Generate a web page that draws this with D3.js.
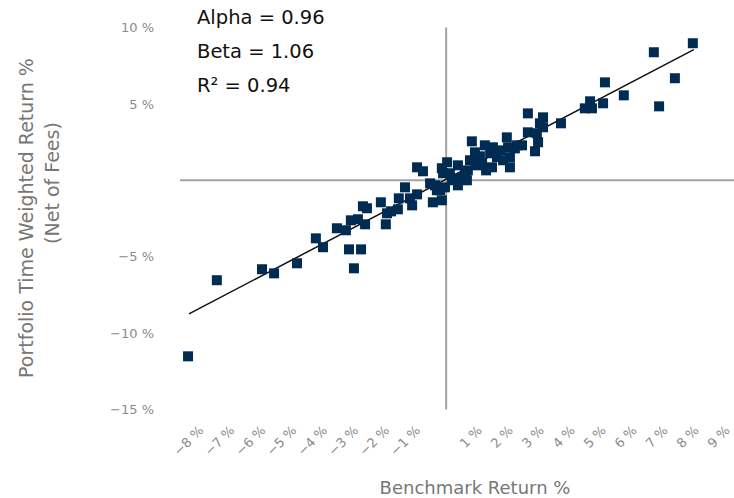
<!DOCTYPE html>
<html>
<head>
<meta charset="utf-8">
<script src="https://cdn.jsdelivr.net/npm/d3@7"></script>
<style>
  body { margin: 0; background: #fff; }
  svg { display: block; font-family: "DejaVu Sans", sans-serif; }
</style>
</head>
<body>
<div id="chart"></div>
<script>
// data (percent)
var benchReturn = [-8.34, -7.41, -5.95, -5.56, -4.82, -4.21, -3.98, -3.53, -3.24, -3.08,
  -2.85, -3.14, -2.75, -2.98, -2.69, -2.56, -2.62, -2.11, -1.95, -1.91,
  -1.78, -1.56, -1.53, -1.33, -1.17, -0.94, -1.10, -0.94, -0.75, -0.52,
  -0.36, -0.30, -0.43, -0.14, -0.04, -0.10, 0.03, -0.14, 0.12, 0.28,
  0.38, 0.38, 0.61, 0.70, 0.83, 0.93, 1.00, 1.16, 1.25, 1.29,
  1.42, 1.51, 1.48, 1.74, 1.84, 1.96, 2.00, 2.06, 2.06, 2.22,
  2.29, 2.45, 2.64, 3.13, 3.03, 3.13, 2.64, 2.93, 2.97, 2.87,
  3.71, 4.48, 4.65, 4.71, 5.07, 5.13, 5.74, 6.71, 7.39, 6.88,
  7.97, 0.19, 0.51, 0.77, 1.09, 1.64, 0.67, -0.20];
var portfolioReturn = [-11.52, -6.54, -5.82, -6.09, -5.43, -3.80, -4.38, -3.14, -3.27, -2.62,
  -2.55, -4.52, -4.52, -5.76, -1.70, -1.83, -2.88, -1.44, -2.88, -2.16,
  -2.03, -1.90, -1.18, -0.46, -1.18, -0.92, -1.64, 0.85, 0.59, -0.20,
  -0.33, -0.65, -1.44, -1.31, -0.46, 0.46, 1.18, 0.79, 0.46, 0.13,
  0.98, -0.33, 0.46, 0.65, 2.55, 1.83, 0.98, 1.11, 2.29, 0.65,
  1.77, 2.16, 0.85, 1.96, 1.31, 2.81, 2.16, 1.51, 0.85, 2.09,
  2.29, 2.29, 4.38, 4.12, 3.73, 3.47, 3.14, 3.08, 2.49, 1.90,
  3.73, 4.71, 5.17, 4.71, 5.04, 6.41, 5.56, 8.38, 6.68, 4.84,
  8.97, 0.00, 0.20, 1.31, 1.57, 1.51, 0.00, -0.65];

var xTicks = [-8, -7, -6, -5, -4, -3, -2, -1, 1, 2, 3, 4, 5, 6, 7, 8, 9];
var yTicks = [-15, -10, -5, 5, 10];

var statLines = ["Alpha = 0.96", "Beta = 1.06", "R\u00b2 = 0.94"];

// fitted line drawn on the chart
var fitIntercept = 0.07;
var fitSlope = 1.06;
var fitRange = [-8.31, 8.0];

var svgWidth = 734;
var svgHeight = 498;

var svg = d3.select("#chart")
  .append("svg")
  .attr("width", svgWidth)
  .attr("height", svgHeight);

var x = d3.scaleLinear().domain([-8.6, 9.3]).range([180, 734]);
var y = d3.scaleLinear().domain([-15, 10]).range([409.5, 27.5]);

function pct(d) {
  return (d < 0 ? "\u2212" + Math.abs(d) : d) + " %";
}

// zero lines
svg.append("line")
  .attr("x1", x(-8.6)).attr("x2", x(9.3))
  .attr("y1", y(0)).attr("y2", y(0))
  .attr("stroke", "#a3a3a3")
  .attr("stroke-width", 2);

svg.append("line")
  .attr("x1", x(0)).attr("x2", x(0))
  .attr("y1", y(10)).attr("y2", y(-15))
  .attr("stroke", "#a3a3a3")
  .attr("stroke-width", 2);

// axes labels
var xAxis = svg.append("g")
  .attr("transform", "translate(2, 428)")
  .call(d3.axisBottom(x).tickValues(xTicks).tickSize(0).tickFormat(pct));
xAxis.select(".domain").remove();
xAxis.selectAll("text")
  .attr("y", 0)
  .attr("dy", "0.35em")
  .attr("x", 0)
  .attr("transform", "rotate(-45)")
  .style("text-anchor", "end")
  .style("font-family", "DejaVu Sans")
  .style("font-size", "13px")
  .attr("fill", "#8a8a8a");

var yAxis = svg.append("g")
  .attr("transform", "translate(154, 0)")
  .call(d3.axisLeft(y).tickValues(yTicks).tickSize(0).tickFormat(pct));
yAxis.select(".domain").remove();
yAxis.selectAll("text")
  .attr("x", 0)
  .style("font-family", "DejaVu Sans")
  .style("font-size", "13px")
  .attr("fill", "#8a8a8a");

// regression line
svg.append("line")
  .attr("x1", x(fitRange[0]))
  .attr("y1", y(fitIntercept + fitSlope * fitRange[0]))
  .attr("x2", x(fitRange[1]))
  .attr("y2", y(fitIntercept + fitSlope * fitRange[1]))
  .attr("stroke", "#111")
  .attr("stroke-width", 1.5);

// points
var points = benchReturn.map(function (d, i) {
  return { bx: d, py: portfolioReturn[i] };
});

svg.append("g")
  .selectAll("rect")
  .data(points)
  .enter()
  .append("rect")
  .attr("x", function (d) { return x(d.bx) - 5; })
  .attr("y", function (d) { return y(d.py) - 5; })
  .attr("width", 10)
  .attr("height", 10)
  .attr("fill", "#002b52");

// stats text
svg.append("g")
  .selectAll("text")
  .data(statLines)
  .enter()
  .append("text")
  .attr("x", 197)
  .attr("y", function (d, i) { return 24 + i * 34; })
  .style("font-size", "19.5px")
  .attr("fill", "#111")
  .text(function (d) { return d; });

// axis titles
svg.append("text")
  .attr("transform", "translate(33, 218) rotate(-90)")
  .style("text-anchor", "middle")
  .style("font-size", "19px")
  .attr("fill", "#777")
  .text("Portfolio Time Weighted Return %");

svg.append("text")
  .attr("transform", "translate(59, 183) rotate(-90)")
  .style("text-anchor", "middle")
  .style("font-size", "19px")
  .attr("fill", "#777")
  .text("(Net of Fees)");

svg.append("text")
  .attr("x", 475)
  .attr("y", 494)
  .style("text-anchor", "middle")
  .style("font-size", "18px")
  .attr("fill", "#777")
  .text("Benchmark Return %");
</script>
</body>
</html>
